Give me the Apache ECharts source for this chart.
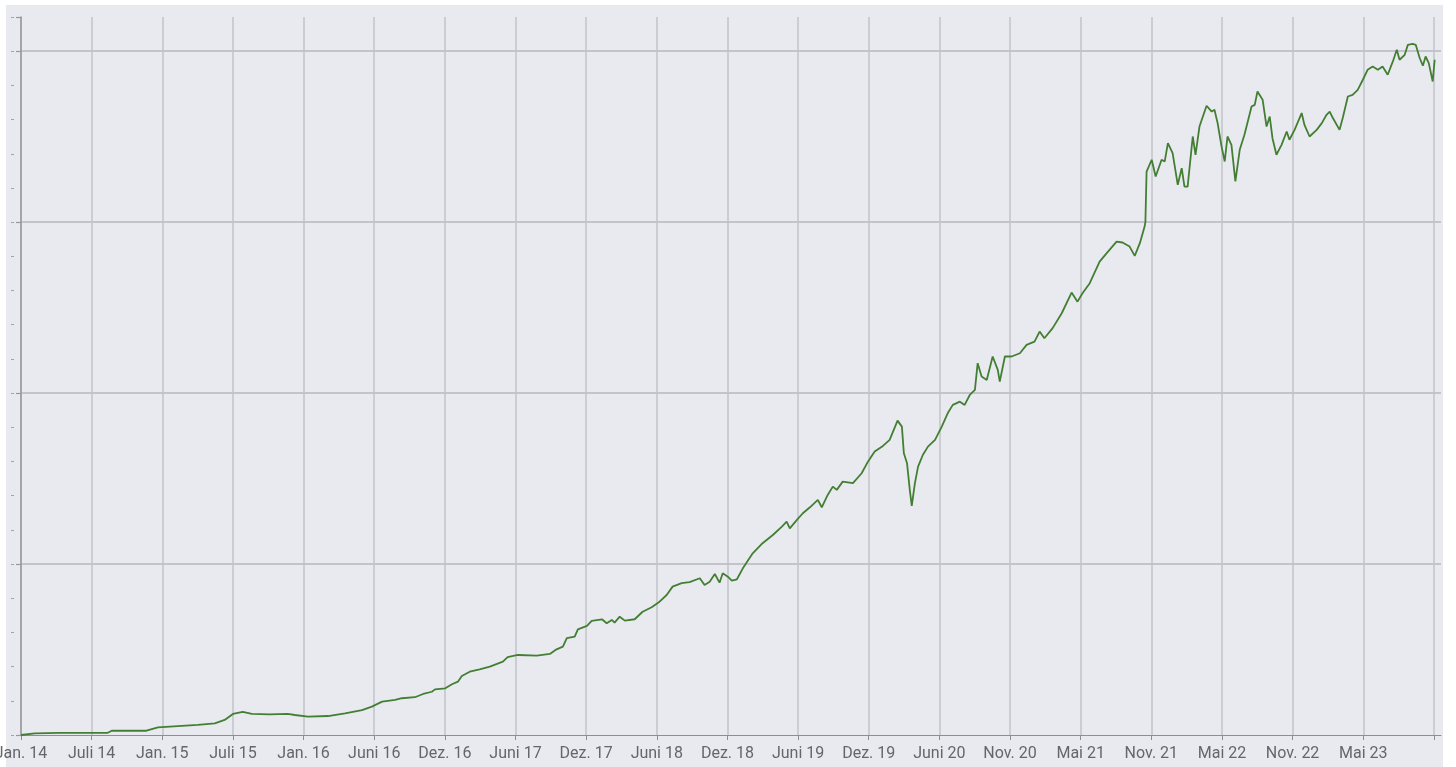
<!DOCTYPE html>
<html>
<head>
<meta charset="utf-8">
<script src="https://cdn.jsdelivr.net/npm/echarts@6/dist/echarts.min.js"></script>
<style>
  html, body { margin: 0; padding: 0; background: #ffffff; }
  #bg { position: absolute; left: 6px; top: 5px; width: 1437px; height: 762px; background: #e9eaf0; }
  #chart { position: absolute; left: 0; top: 0; width: 1456px; height: 767px; }
</style>
</head>
<body>
<div id="bg"></div>
<div id="chart"></div>
<script>
// Wertentwicklung in %
var dates = [
  '2014-01-17','2014-02-21','2014-04-25','2014-08-25','2014-09-04','2014-12-01','2014-12-30',
  '2015-04-10','2015-05-23','2015-06-17','2015-07-08','2015-08-02','2015-08-25','2015-10-09','2015-11-24','2015-12-12',
  '2016-01-14','2016-03-05','2016-04-17','2016-05-30','2016-06-24','2016-07-20','2016-08-22','2016-09-08','2016-10-11','2016-11-01','2016-11-23','2016-12-01','2016-12-27',
  '2017-01-13','2017-01-28','2017-02-07','2017-02-27','2017-03-24','2017-04-19','2017-05-22','2017-06-03','2017-06-29','2017-08-16','2017-09-18','2017-10-05','2017-10-21','2017-10-31','2017-11-20','2017-11-28','2017-12-21',
  '2018-01-02','2018-01-28','2018-02-09','2018-02-22','2018-03-01','2018-03-14','2018-03-27','2018-04-21','2018-05-11','2018-06-03','2018-06-23','2018-07-11','2018-07-26','2018-08-18','2018-09-07','2018-10-03','2018-10-15','2018-10-28','2018-11-10','2018-11-22','2018-11-30','2018-12-13','2018-12-23',
  '2019-01-05','2019-01-20','2019-02-14','2019-03-11','2019-04-06','2019-04-29','2019-05-11','2019-05-19','2019-06-06','2019-06-21','2019-07-09','2019-07-29','2019-08-08','2019-08-23','2019-09-05','2019-09-15','2019-09-30','2019-10-26','2019-11-17','2019-12-03','2019-12-20',
  '2020-01-10','2020-01-27','2020-02-16','2020-02-27','2020-03-03','2020-03-11','2020-03-18','2020-03-23','2020-03-31','2020-04-08','2020-04-20','2020-05-03','2020-05-21','2020-06-07','2020-06-22','2020-07-05','2020-07-23','2020-08-04','2020-08-17','2020-08-30','2020-09-06','2020-09-16','2020-09-29','2020-10-14','2020-10-27','2020-11-01','2020-11-14','2020-12-01','2020-12-22',
  '2021-01-08','2021-01-28','2021-02-10','2021-02-22','2021-03-15','2021-04-07','2021-05-02','2021-05-17','2021-05-30','2021-06-17','2021-07-12','2021-07-30','2021-08-24','2021-09-08','2021-09-26','2021-10-09','2021-10-22','2021-11-03','2021-11-05','2021-11-08','2021-11-21','2021-12-01','2021-12-16','2021-12-24',
  '2022-01-01','2022-01-13','2022-01-26','2022-02-05','2022-02-12','2022-02-20','2022-03-05','2022-03-12','2022-03-22','2022-04-09','2022-04-22','2022-04-29','2022-05-07','2022-05-17','2022-05-25','2022-06-01','2022-06-11','2022-06-21','2022-07-02','2022-07-14','2022-08-01','2022-08-09','2022-08-16','2022-08-29','2022-09-08','2022-09-16','2022-09-23','2022-10-03','2022-10-16','2022-10-29','2022-11-05','2022-11-18','2022-12-06','2022-12-13','2022-12-26',
  '2023-01-13','2023-01-26','2023-02-07','2023-02-15','2023-02-23','2023-03-12','2023-03-20','2023-04-02','2023-04-14','2023-04-27','2023-05-10','2023-05-22','2023-06-04','2023-06-17','2023-06-29','2023-07-12','2023-07-25','2023-08-04','2023-08-11','2023-08-24','2023-09-01','2023-09-13','2023-09-21','2023-10-01','2023-10-09','2023-10-16','2023-10-24','2023-11-03','2023-11-08'
];

var values = [
  0, 1.0, 1.3, 1.3, 2.5, 2.5, 4.5,
  5.9, 6.8, 8.8, 12.3, 13.5, 12.3, 12.1, 12.3, 11.7,
  10.7, 11.1, 12.7, 14.6, 16.6, 19.5, 20.5, 21.5, 22.1, 24.0, 25.3, 26.7, 27.3,
  29.7, 31.2, 34.5, 37.0, 38.4, 40.0, 42.9, 45.5, 46.8, 46.4, 47.4, 50.1, 51.7, 56.6, 57.5, 61.8, 63.8,
  66.7, 67.7, 65.4, 67.3, 65.7, 69.2, 66.9, 67.7, 72.1, 74.7, 78.0, 81.9, 86.8, 88.8, 89.4, 91.7, 87.8, 89.7, 94.2, 89.1, 94.6, 92.6, 90.3,
  91.1, 97.5, 106.3, 112.2, 117.0, 121.9, 124.8, 120.9, 125.8, 129.7, 133.2, 137.5, 133.2, 140.4, 145.3, 143.4, 148.2, 147.3, 153.1, 159.9, 165.8,
  169.1, 172.6, 183.9, 180.4, 164.8, 159.0, 143.4, 134.0, 147.3, 157.0, 163.8, 168.7, 172.6, 180.4, 188.2, 193.1, 195.0, 193.1, 198.9, 201.9, 217.5, 209.7, 207.7, 221.4, 213.6, 206.7, 221.4, 221.4, 223.3,
  228.2, 230.1, 236.0, 232.1, 238.0, 246.7, 258.8, 253.5, 258.5, 264.3, 276.9, 281.9, 288.6, 288.1, 285.7, 280.3, 287.7, 297.4, 300.2, 329.6, 336.5, 326.7, 336.5, 335.5,
  346.2, 340.4, 321.8, 331.6, 320.8, 320.8, 350.1, 339.4, 355.9, 368.1, 364.7, 365.7, 357.9, 344.2, 335.5, 350.1, 345.2, 323.8, 342.3, 351.1, 367.6, 368.6, 376.4, 371.6, 355.9, 361.8, 349.1, 339.4, 345.2, 353.0, 348.2, 354.0, 363.8, 356.9, 350.1,
  354.0, 357.9, 362.8, 364.7, 360.9, 354.0, 360.9, 373.5, 374.5, 377.4, 383.3, 389.1, 391.0, 389.1, 391.0, 386.2, 394.0, 400.8, 395.0, 397.9, 403.7, 404.3, 403.7, 396.0, 391.5, 396.9, 393.0, 382.3, 395.0
];

// Beschriftung der x-Achse, ein Eintrag je Teilstrich (alle 179 Tage)
var tickLabels = [
  'Jan. 14', 'Juli 14', 'Jan. 15', 'Juli 15', 'Jan. 16', 'Juni 16', 'Dez. 16',
  'Juni 17', 'Dez. 17', 'Juni 18', 'Dez. 18', 'Juni 19', 'Dez. 19', 'Juni 20',
  'Nov. 20', 'Mai 21', 'Nov. 21', 'Mai 22', 'Nov. 22', 'Mai 23'
];

var startDate = Date.parse('2014-01-17');
var tickDays = 179;
var dayMs = 86400000;

var seriesData = dates.map(function (d, i) {
  return [(Date.parse(d) - startDate) / dayMs, values[i]];
});

var myChart = echarts.init(document.getElementById('chart'), null, { renderer: 'canvas' });

var option = {
  backgroundColor: 'transparent',
  animation: false,
  grid: {
    left: 21,
    top: 17,
    width: 1420,
    bottom: 32,
    containLabel: false,
    outerBoundsMode: 'none'
  },
  xAxis: {
    type: 'value',
    min: 0,
    max: 3598,
    interval: tickDays,
    axisLine: { show: true, lineStyle: { color: '#8c8e94', width: 1 } },
    axisTick: { show: true, length: 5, lineStyle: { color: '#8c8e94' } },
    axisLabel: {
      color: '#63666c',
      fontFamily: 'Roboto',
      fontSize: 16,
      margin: 11,
      showMaxLabel: false,
      formatter: function (v) {
        if (v % tickDays !== 0) return '';
        return tickLabels[Math.round(v / tickDays)] || '';
      }
    },
    splitLine: {
      show: true,
      showMinLine: true,
      showMaxLine: false,
      lineStyle: { color: '#c2c3c9', width: 1.5 }
    }
  },
  yAxis: [
    {
      type: 'value',
      position: 'left',
      offset: 7,
      min: 0,
      max: 420,
      interval: 100,
      axisLine: { show: true, lineStyle: { color: '#96979d', width: 1.5 } },
      axisTick: { show: true, length: 5, lineStyle: { color: '#96979d', width: 1.2 } },
      axisLabel: { show: false },
      splitLine: {
        show: true,
        showMinLine: false,
        showMaxLine: false,
        lineStyle: { color: '#b6b7bd', width: 1.5 }
      }
    },
    {
      type: 'value',
      position: 'left',
      offset: 7,
      min: 0,
      max: 420,
      interval: 20,
      axisLine: { show: false },
      axisTick: { show: true, length: 3, lineStyle: { color: '#a2a3a9' } },
      axisLabel: { show: false },
      splitLine: { show: false }
    }
  ],
  series: [
    {
      type: 'line',
      yAxisIndex: 0,
      showSymbol: false,
      symbol: 'none',
      data: seriesData,
      lineStyle: { color: '#437f33', width: 1.8 }
    }
  ]
};

myChart.setOption(option);
</script>
</body>
</html>
